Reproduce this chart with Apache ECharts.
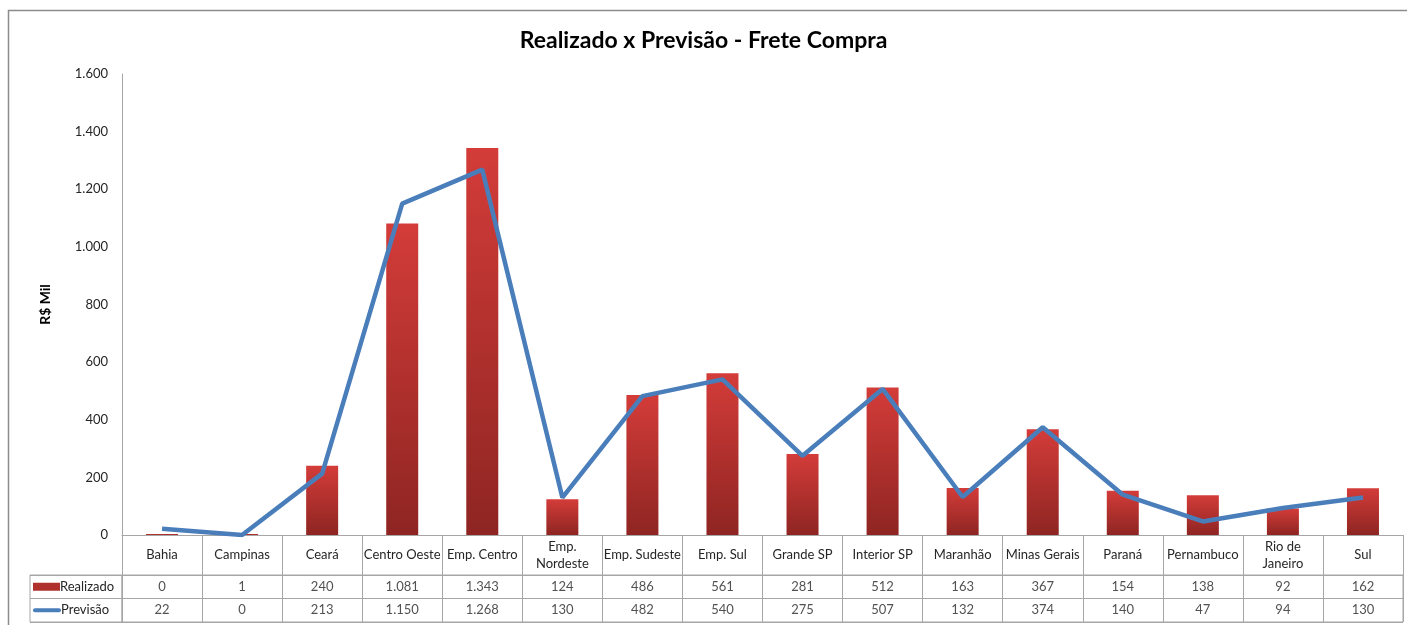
<!DOCTYPE html>
<html>
<head>
<meta charset="utf-8">
<title>Realizado x Previsão - Frete Compra</title>
<script src="https://cdn.jsdelivr.net/npm/echarts@6/dist/echarts.min.js"></script>
<style>
    html, body { margin: 0; padding: 0; background: #fff; }
    #chart { width: 1407px; height: 625px; }
</style>
</head>
<body>
<div id="chart"></div>
<script>
const categorias = ['Bahia', 'Campinas', 'Ceará', 'Centro Oeste', 'Emp. Centro', 'Emp. Nordeste', 'Emp. Sudeste', 'Emp. Sul',
    'Grande SP', 'Interior SP', 'Maranhão', 'Minas Gerais', 'Paraná', 'Pernambuco', 'Rio de Janeiro', 'Sul'];
const realizado = [0, 1, 240, 1081, 1343, 124, 486, 561, 281, 512, 163, 367, 154, 138, 92, 162];
const previsao = [22, 0, 213, 1150, 1268, 130, 482, 540, 275, 507, 132, 374, 140, 47, 94, 130];
const linhasTabela = ['Realizado', 'Previsão'];
// rótulos que quebram em duas linhas no cabeçalho da tabela
const rotulosQuebrados = { 'Emp. Nordeste': 'Emp.\nNordeste', 'Rio de Janeiro': 'Rio de\nJaneiro' };

const FONTE = 'Lato, "Open Sans", sans-serif';
const COR_LINHA = '#a6a6a6';
const COR_TEXTO = '#262626';

function fmt(v) {
    return String(v).replace(/\B(?=(\d{3})+(?!\d))/g, '.');
}

const chart = echarts.init(document.getElementById('chart'));

const celulasReal = realizado.map((v, i) => [i, 0, v]);
const celulasPrev = previsao.map((v, i) => [i, 1, v]);

const rotuloCelula = {
    show: true,
    position: 'inside',
    color: COR_TEXTO,
    fontFamily: FONTE,
    fontSize: 13,
    formatter: p => fmt(p.value[2])
};

const option = {
    backgroundColor: '#fff',
    animation: false,
    title: {
        text: 'Realizado x Previsão - Frete Compra',
        left: 'center',
        top: 24,
        textStyle: { fontFamily: FONTE, fontSize: 23, fontWeight: 'bold', color: '#000' }
    },
    graphic: [{
        type: 'rect',
        shape: { x: 8.5, y: 10.5, width: 1500, height: 800 },
        style: { fill: 'none', stroke: '#8c8c8c', lineWidth: 1.5 },
        silent: true
    }],
    grid: [
        { left: 122, right: 4, top: 74, bottom: 90 },          // gráfico
        { left: 122, right: 4, top: 575, height: 47, show: true, borderColor: COR_LINHA, borderWidth: 1 }, // valores
        { left: 30, width: 92, top: 575, height: 47, show: true, borderColor: COR_LINHA, borderWidth: 1 }  // legenda
    ],
    xAxis: [
        {
            gridIndex: 0,
            type: 'category',
            data: categorias,
            axisLine: { lineStyle: { color: COR_LINHA } },
            axisTick: { show: true, length: 40, interval: 0, lineStyle: { color: COR_LINHA } },
            axisLabel: {
                interval: 0,
                margin: 20,
                verticalAlign: 'middle',
                lineHeight: 17,
                color: COR_TEXTO,
                fontFamily: FONTE,
                fontSize: 13,
                formatter: v => rotulosQuebrados[v] || v
            }
        },
        {
            gridIndex: 1,
            type: 'category',
            data: categorias,
            axisLine: { show: false },
            axisTick: { show: false },
            axisLabel: { show: false },
            splitLine: { show: true, interval: 0, lineStyle: { color: COR_LINHA } }
        },
        {
            gridIndex: 2,
            type: 'category',
            data: [''],
            axisLine: { show: false },
            axisTick: { show: false },
            axisLabel: { show: false }
        }
    ],
    yAxis: [
        {
            gridIndex: 0,
            type: 'value',
            min: 0,
            max: 1600,
            interval: 200,
            name: 'R$ Mil',
            nameLocation: 'middle',
            nameGap: 70,
            nameTextStyle: { fontFamily: FONTE, fontSize: 14, fontWeight: 'bold', color: '#000' },
            axisLine: { show: true, lineStyle: { color: COR_LINHA } },
            axisTick: { show: false },
            splitLine: { show: false },
            axisLabel: { margin: 14, color: COR_TEXTO, fontFamily: FONTE, fontSize: 13, formatter: v => fmt(v) }
        },
        {
            gridIndex: 1,
            type: 'category',
            data: linhasTabela,
            inverse: true,
            axisLine: { show: false },
            axisTick: { show: false },
            axisLabel: { show: false },
            splitLine: { show: true, lineStyle: { color: COR_LINHA } }
        },
        {
            gridIndex: 2,
            type: 'category',
            data: linhasTabela,
            inverse: true,
            axisLine: { show: false },
            axisTick: { show: false },
            splitLine: { show: true, lineStyle: { color: COR_LINHA } },
            axisLabel: {
                inside: true,
                margin: 3,
                align: 'left',
                color: COR_TEXTO,
                fontFamily: FONTE,
                fontSize: 13,
                formatter: v => (v === 'Realizado' ? '{r|}' : '{p|}') + v,
                rich: {
                    r: { width: 27, height: 8, backgroundColor: '#b0302d', padding: 0 },
                    p: { width: 28, height: 4, backgroundColor: '#4a7ebb', borderRadius: 2, padding: 0 }
                }
            }
        }
    ],
    series: [
        {
            name: 'Realizado',
            type: 'bar',
            xAxisIndex: 0,
            yAxisIndex: 0,
            barWidth: 32,
            barMinHeight: 1,
            data: realizado,
            itemStyle: {
                color: new echarts.graphic.LinearGradient(0, 0, 0, 1, [
                    { offset: 0, color: '#d33c39' },
                    { offset: 1, color: '#8e2522' }
                ])
            }
        },
        {
            name: 'Previsão',
            type: 'line',
            xAxisIndex: 0,
            yAxisIndex: 0,
            data: previsao,
            showSymbol: false,
            symbol: 'none',
            lineStyle: { color: '#4a7ebb', width: 4.5 },
            itemStyle: { color: '#4a7ebb' }
        },
        {
            name: 'tabRealizado',
            type: 'scatter',
            xAxisIndex: 1,
            yAxisIndex: 1,
            symbolSize: 1,
            itemStyle: { color: 'rgba(0,0,0,0)' },
            silent: true,
            data: celulasReal,
            label: rotuloCelula
        },
        {
            name: 'tabPrevisao',
            type: 'scatter',
            xAxisIndex: 1,
            yAxisIndex: 1,
            symbolSize: 1,
            itemStyle: { color: 'rgba(0,0,0,0)' },
            silent: true,
            data: celulasPrev,
            label: rotuloCelula
        }
    ]
};

chart.setOption(option);

window.addEventListener('resize', function() {
    chart.resize();
});
</script>
</body>
</html>
